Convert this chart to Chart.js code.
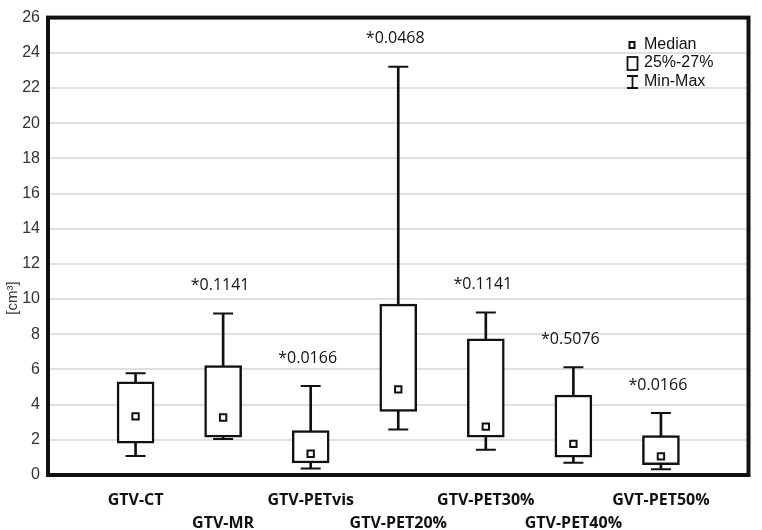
<!DOCTYPE html>
<html>
<head>
<meta charset="utf-8">
<script src="https://cdn.jsdelivr.net/npm/chart.js@4.4.0/dist/chart.umd.min.js"></script>
<style>
  html, body { margin: 0; padding: 0; background: #fff; }
  #wrap { width: 762px; height: 530px; }
</style>
</head>
<body>
<div id="wrap"><canvas id="myChart"></canvas></div>
<script>
// box plot values, cm3
const categories = ['GTV-CT', 'GTV-MR', 'GTV-PETvis', 'GTV-PET20%', 'GTV-PET30%', 'GTV-PET40%', 'GVT-PET50%'];
const minValues = [1.08, 2.05, 0.37, 2.58, 1.43, 0.70, 0.33];
const q1Values = [1.81, 2.15, 0.68, 3.61, 2.15, 1.02, 0.59];
const medianValues = [3.33, 3.27, 1.21, 4.87, 2.75, 1.77, 1.06];
const q3Values = [5.30, 6.22, 2.52, 9.71, 7.74, 4.55, 2.24];
const maxValues = [5.79, 9.18, 5.06, 23.2, 9.24, 6.13, 3.52];
const pLabels = ['', '*0.1141', '*0.0166', '*0.0468', '*0.1141', '*0.5076', '*0.0166'];
const yTicks = [0, 2, 4, 6, 8, 10, 12, 14, 16, 18, 20, 22, 24, 26];

const INK = '#111';
const pad = arr => [null, ...arr, null];

// staggered x labels: odd ones on the second row
const xLabels = ['', ...categories.map((c, i) => i % 2 === 0 ? [c, ''] : ['', c]), ''];

const boxPlotExtras = {
  id: 'boxPlotExtras',
  afterDatasetsDraw(chart) {
    const { ctx, scales: { x, y } } = chart;
    ctx.save();
    ctx.fillStyle = INK;
    ctx.font = '16px "Open Sans"';
    ctx.textAlign = 'center';
    ctx.textBaseline = 'middle';
    pLabels.forEach((t, i) => {
      if (!t) return;
      ctx.fillText(t, x.getPixelForValue(i + 1) - 3, y.getPixelForValue(maxValues[i]) - 28);
    });
    ctx.restore();
  },
  afterDraw(chart) {
    const { ctx, chartArea: a } = chart;
    ctx.save();
    // frame
    ctx.strokeStyle = INK;
    ctx.lineWidth = 4;
    ctx.strokeRect(a.left, a.top, a.right - a.left, a.bottom - a.top);

    // y title
    ctx.fillStyle = '#333';
    ctx.font = '15px "Liberation Sans"';
    ctx.textAlign = 'center';
    ctx.textBaseline = 'middle';
    ctx.translate(13, 298);
    ctx.rotate(-Math.PI / 2);
    ctx.fillText('[cm³]', 0, 0);
    ctx.setTransform(1, 0, 0, 1, 0, 0);

    // legend
    const lx = 644;
    ctx.fillStyle = INK;
    ctx.font = '16px "Liberation Sans"';
    ctx.textAlign = 'left';
    ctx.fillText('Median', lx, 45);
    ctx.fillText('25%-27%', lx, 63);
    ctx.fillText('Min-Max', lx, 82);
    ctx.lineWidth = 2;
    ctx.strokeRect(629.5, 42, 5, 6);
    ctx.lineWidth = 1.8;
    ctx.strokeRect(627.5, 57, 10, 13);
    ctx.beginPath();
    ctx.moveTo(632.5, 76); ctx.lineTo(632.5, 88);
    ctx.moveTo(627, 76); ctx.lineTo(638, 76);
    ctx.moveTo(627, 88); ctx.lineTo(638, 88);
    ctx.stroke();
    ctx.restore();
  }
};

new Chart(document.getElementById('myChart'), {
  type: 'bar',
  data: {
    labels: xLabels,
    datasets: [
      {
        type: 'line',
        label: 'Median',
        data: pad(medianValues),
        showLine: false,
        pointStyle: 'rect',
        pointRadius: 4.5,
        backgroundColor: '#fff',
        borderColor: INK,
        borderWidth: 2,
        order: 0
      },
      {
        type: 'line',
        label: 'Max',
        data: pad(maxValues),
        showLine: false,
        pointStyle: 'line',
        pointRadius: 10,
        borderColor: INK,
        borderWidth: 2,
        order: 1
      },
      {
        type: 'line',
        label: 'Min',
        data: pad(minValues),
        showLine: false,
        pointStyle: 'line',
        pointRadius: 10,
        borderColor: INK,
        borderWidth: 2,
        order: 1
      },
      {
        label: '25%-75%',
        data: pad(q1Values.map((v, i) => [v, q3Values[i]])),
        backgroundColor: '#fff',
        borderColor: INK,
        borderWidth: 2.5,
        borderSkipped: false,
        barThickness: 37,
        grouped: false,
        order: 2
      },
      {
        label: 'Min-Max',
        data: pad(minValues.map((v, i) => [v, maxValues[i]])),
        backgroundColor: INK,
        borderWidth: 0,
        barThickness: 2,
        grouped: false,
        order: 3
      }
    ]
  },
  options: {
    responsive: true,
    maintainAspectRatio: false,
    animation: false,
    events: [],
    layout: { padding: { top: 13, right: 10, left: 0, bottom: 0 } },
    plugins: {
      legend: { display: false },
      tooltip: { enabled: false }
    },
    scales: {
      x: {
        offset: false,
        grid: { display: false, drawTicks: false },
        border: { display: false },
        ticks: {
          autoSkip: false,
          maxRotation: 0,
          padding: 13.5,
          color: INK,
          font: { family: 'Open Sans', size: 16, weight: 'bold', lineHeight: 23 / 16 }
        },
        afterFit: s => { s.height = 55; }
      },
      y: {
        min: 0,
        max: 26,
        afterBuildTicks: s => { s.ticks = yTicks.map(v => ({ value: v })); },
        grid: { color: '#e0e0e0', lineWidth: 2, drawTicks: false },
        border: { display: false },
        ticks: {
          padding: 8,
          color: '#333',
          font: { family: 'Liberation Sans', size: 16 }
        },
        afterFit: s => { s.width = 48; }
      }
    }
  },
  plugins: [boxPlotExtras]
});
</script>
</body>
</html>
